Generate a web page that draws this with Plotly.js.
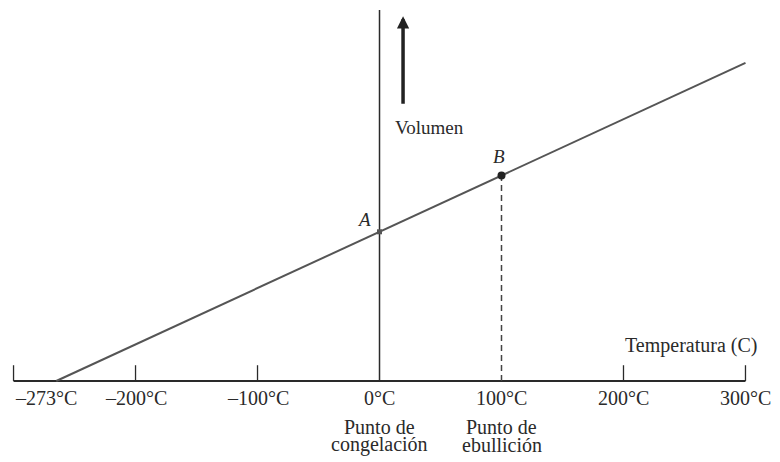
<!DOCTYPE html>
<html>
<head>
<meta charset="utf-8">
<script src="https://cdn.plot.ly/plotly-3.0.1.min.js"></script>
<style>html,body{margin:0;padding:0;background:#fff;}#chart{width:780px;height:462px;}</style>
</head>
<body>
<div id="chart"></div>
<script>
// ---- data ----
const lineTemps = [-265, 300];          // °C, ends of the volume line
const lineVolumes = [0, 565];           // relative volume
const pointTemps = [0, 100];            // A (freezing), B (boiling)
const pointVolumes = [265, 365];
const pointNames = ['A', 'B'];
const tickTemps = [-273, -200, -100, 0, 100, 200, 300];
const tickLabels = ['–273°C', '–200°C', '–100°C', '0°C', '100°C', '200°C', '300°C'];
const markedTicks = [-300, -200, -100, 200, 300];
const captionLine1 = ['Punto de', 'Punto de'];
const captionLine2 = ['congelación', 'ebullición'];
const axisTemps = [-300, 300];
const axisVolumeTop = 659;
const tickHeight = 28;

const serif = '"Liberation Serif", "DejaVu Serif", serif';
const ink = '#2a2a2a';

// tick marks as one broken line
const tx = [], ty = [];
markedTicks.forEach(t => { tx.push(t, t, null); ty.push(0, tickHeight, null); });

const traces = [
  // horizontal temperature axis
  {x: axisTemps, y: [0, 0], mode: 'lines', line: {color: ink, width: 2}, hoverinfo: 'skip'},
  {x: tx, y: ty, mode: 'lines', line: {color: ink, width: 1.3}, hoverinfo: 'skip'},
  // vertical volume axis at 0°C
  {x: [0, 0], y: [0, axisVolumeTop], mode: 'lines', line: {color: ink, width: 1.5}, hoverinfo: 'skip'},
  // dashed drop from B
  {x: [pointTemps[1], pointTemps[1]], y: [0, pointVolumes[1]], mode: 'lines',
   line: {color: '#444', width: 1.5, dash: '6px,4px'}, hoverinfo: 'skip'},
  // volume line
  {x: lineTemps, y: lineVolumes, mode: 'lines', line: {color: '#555', width: 2}, hoverinfo: 'skip'},
  // points
  {x: [pointTemps[0]], y: [pointVolumes[0]], mode: 'markers',
   marker: {symbol: 'square', size: 5, color: '#555'}, hoverinfo: 'skip'},
  {x: [pointTemps[1]], y: [pointVolumes[1]], mode: 'markers',
   marker: {symbol: 'circle', size: 8, color: '#222'}, hoverinfo: 'skip'}
];

const annotations = [];
tickTemps.forEach((t, i) => {
  annotations.push({x: t, y: 0, xref: 'x', yref: 'y', text: tickLabels[i], showarrow: false,
    xanchor: 'center', yanchor: 'middle', yshift: -17,
    font: {family: serif, size: 20, color: ink}});
});
pointTemps.forEach((t, i) => {
  annotations.push({x: t, y: 0, xref: 'x', yref: 'y', text: captionLine1[i], showarrow: false,
    xanchor: 'center', yanchor: 'middle', yshift: -46,
    font: {family: serif, size: 20, color: ink}});
  annotations.push({x: t, y: 0, xref: 'x', yref: 'y', text: captionLine2[i], showarrow: false,
    xanchor: 'center', yanchor: 'middle', yshift: -64,
    font: {family: serif, size: 20, color: ink}});
});
// point labels
annotations.push({x: pointTemps[0], y: pointVolumes[0], text: '<i>' + pointNames[0] + '</i>', showarrow: false,
  xshift: -16, yshift: 12, font: {family: serif, size: 19, color: ink}});
annotations.push({x: pointTemps[1], y: pointVolumes[1], text: '<i>' + pointNames[1] + '</i>', showarrow: false,
  xshift: -3, yshift: 19, font: {family: serif, size: 19, color: ink}});
// volume arrow and label
annotations.push({x: 19.3, y: 648, ax: 0, ay: 89, axref: 'pixel', ayref: 'pixel', text: '', showarrow: true,
  arrowhead: 2, arrowsize: 0.7, arrowwidth: 3.5, arrowcolor: '#222'});
annotations.push({x: 11, y: 450, text: 'Volumen', showarrow: false, xanchor: 'left', yanchor: 'middle',
  font: {family: serif, size: 19, color: ink}});
annotations.push({x: 255, y: tickHeight, text: 'Temperatura (C)', showarrow: false, xanchor: 'center', yanchor: 'middle',
  yshift: 20, font: {family: serif, size: 20, color: ink}});

const layout = {
  width: 780, height: 462,
  margin: {l: 0, r: 0, t: 0, b: 0},
  paper_bgcolor: '#fff', plot_bgcolor: '#fff',
  showlegend: false,
  xaxis: {range: [-311.1, 328.3], visible: false, fixedrange: true},
  yaxis: {range: [-143.9, 676.7], visible: false, fixedrange: true},
  annotations: annotations
};

Plotly.newPlot('chart', traces, layout, {displayModeBar: false, staticPlot: true});
</script>
</body>
</html>
